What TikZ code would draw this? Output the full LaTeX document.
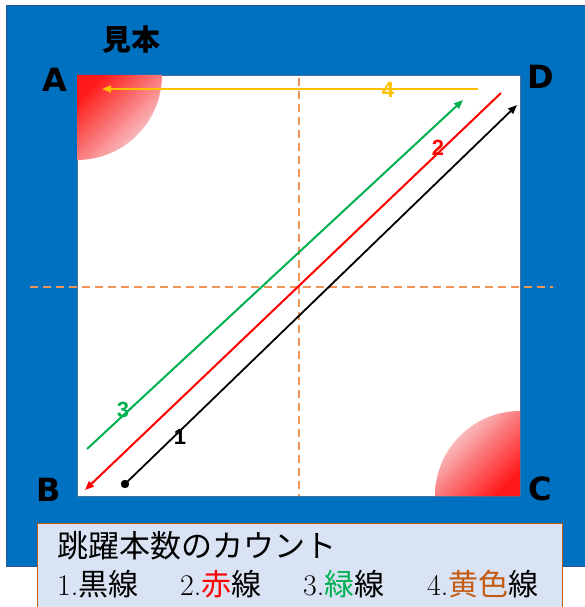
\documentclass[tikz,border=0pt]{standalone}
\usepackage{fontspec}
\newfontfamily\cjk{Noto Sans CJK JP}
\newfontfamily\lab{Liberation Sans}
\newfontfamily\heavy{DejaVu Sans}
\usetikzlibrary{arrows.meta}
\definecolor{bgblue}{HTML}{0070C0}
\definecolor{bgedge}{HTML}{2F528F}
\definecolor{sqedge}{HTML}{41719C}
\definecolor{guideorange}{HTML}{F0955A}
\definecolor{ygold}{HTML}{FFC000}
\definecolor{lgreen}{HTML}{00B050}
\definecolor{boxfill}{HTML}{DAE3F3}
\definecolor{boxedge}{HTML}{C55A11}
\definecolor{palepink}{HTML}{F6E1E3}
\begin{document}
\begin{tikzpicture}[x=1pt,y=-1pt,
  corner/.style={font=\heavy\bfseries\fontsize{32}{32}\selectfont, inner sep=0pt},
  numlab/.style={font=\lab\bfseries\fontsize{22}{22}\selectfont, inner sep=0pt},
  jline/.style={line width=2pt, -{Triangle[length=9pt,width=7pt]}},
  guide/.style={draw=guideorange, line width=1.1pt, dash pattern=on 8pt off 5pt},
  boxtxt/.style={font=\fontsize{30}{30}\selectfont, inner sep=0pt, anchor=base west}]
\useasboundingbox (0,0) rectangle (584,607);
\fill[white] (0,0) rectangle (584,607);
% background
\filldraw[fill=bgblue, draw=bgedge, line width=0.5pt] (6,5) rectangle (590,566);
% white square
\filldraw[fill=white, draw=sqedge, line width=0.6pt] (77,75) rectangle (520,496);
% quarter discs
\begin{scope}
  \clip (77,75) -- (162,75) arc[start angle=0, end angle=90, radius=85] -- cycle;
  \shade[top color=red!90, bottom color=palepink, shading angle=45] (77,75) rectangle (162,160);
\end{scope}
\begin{scope}
  \clip (520,496) -- (435,496) arc[start angle=180, end angle=270, radius=85] -- cycle;
  \shade[top color=palepink, bottom color=red!90, shading angle=45] (435,411) rectangle (520,496);
\end{scope}
% guides
\coordinate (vt) at (299,78);
\coordinate (vb) at (299,496);
\coordinate (hl) at (30,287);
\coordinate (hr) at (553,287);
\path[guide] (vt) -- (vb);
\path[guide] (hl) -- (hr);
% arrows
\coordinate (y1) at (478,89);
\coordinate (y2) at (102,89);
\coordinate (g1) at (87,449);
\coordinate (g2) at (463,100);
\coordinate (r1) at (501,93);
\coordinate (r2) at (85,490);
\coordinate (k1) at (125,484);
\coordinate (k2) at (517,105);
\draw[jline, ygold] (y1) -- (y2);
\draw[jline, lgreen] (g1) -- (g2);
\draw[jline, red] (r1) -- (r2);
\draw[jline, black, line width=1.8pt] (k1) -- (k2);
\fill (k1) circle[radius=4.2];
% number labels
\node[numlab, text=ygold] (n4) at (388,90) {4};
\node[numlab, text=red] (n2) at (438,148) {2};
\node[numlab, text=lgreen] (n3) at (123,410) {3};
\node[numlab, text=black] (n1) at (180,437) {1};
% corner labels
\node[corner] (A) at (55,80) {A};
\node[corner] (D) at (541,77) {D};
\node[corner] (B) at (49,490) {B};
\node[corner] (C) at (540,489) {C};
\node[font=\cjk\bfseries\fontsize{29}{29}\selectfont, inner sep=0pt] (mihon) at (131,40) {見本};
% text box
\filldraw[fill=boxfill, draw=boxedge, line width=1pt] (37,612) -- (37,523) -- (562,523) -- (562,612);
\node[boxtxt, font=\cjk\fontsize{31}{31}\selectfont] (t1) at (57,557) {跳躍本数のカウント};
\node[boxtxt] (i1) at (57,595) {1.{\cjk 黒線}};
\node[boxtxt] (i2) at (180,595) {2.{\cjk\color{red}赤}{\cjk 線}};
\node[boxtxt] (i3) at (303,595) {3.{\cjk\color{lgreen}緑}{\cjk 線}};
\node[boxtxt] (i4) at (427,595) {4.{\cjk\color{boxedge}黄色}{\cjk 線}};
\end{tikzpicture}
\end{document}
